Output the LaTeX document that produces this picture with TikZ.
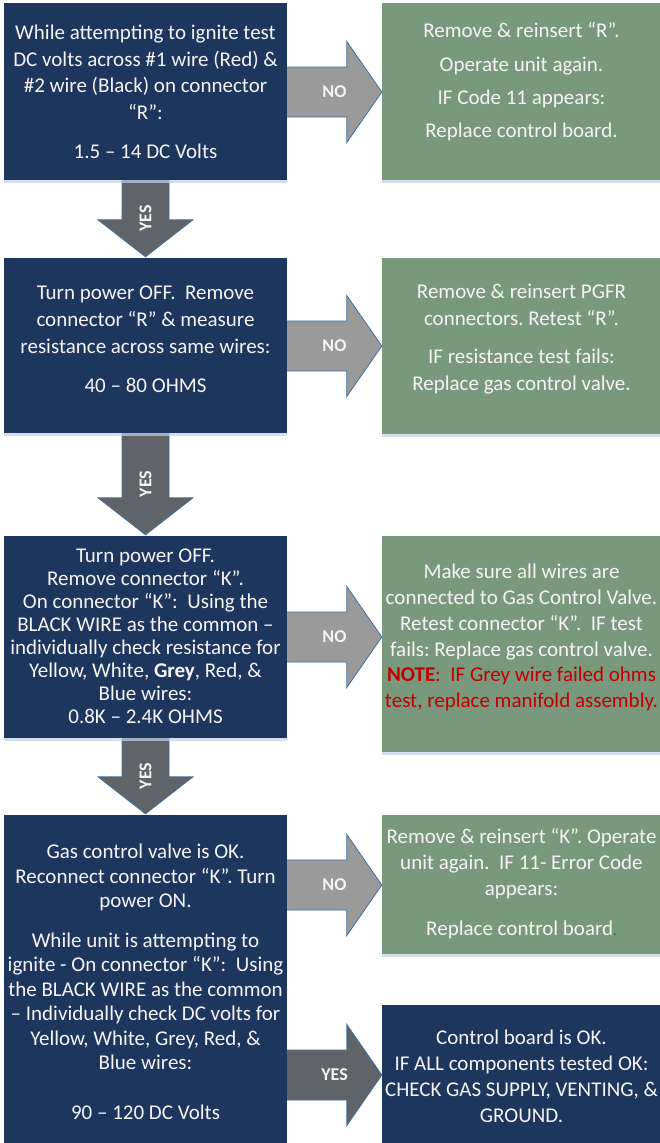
\documentclass[tikz,border=0pt]{standalone}
\usepackage{fontspec}
\setmainfont{Carlito}
\usetikzlibrary{calc,shadows}
\frenchspacing

\definecolor{navy}{RGB}{29,54,93}
\definecolor{sage}{RGB}{122,153,124}
\definecolor{txt}{RGB}{244,244,244}
\definecolor{nogray}{RGB}{154,154,154}
\definecolor{yesgray}{RGB}{96,99,104}
\definecolor{edgeblue}{RGB}{65,113,156}
\definecolor{notered}{RGB}{192,0,0}
\definecolor{shadowblue}{RGB}{196,208,228}
\definecolor{dotgray}{RGB}{60,60,60}

\pgfdeclarelayer{back}
\pgfdeclarelayer{paper}
\pgfsetlayers{paper,back,main}

\tikzset{
  box/.style={rectangle, inner sep=0pt, draw=none,
    drop shadow={shadow xshift=0pt, shadow yshift=-2.5pt, fill=shadowblue, opacity=0.7}},
  navybox/.style={box, fill=navy, minimum width=283pt},
  sagebox/.style={box, fill=sage, minimum width=279pt},
  boxtext/.style={inner sep=0pt, align=center, text=txt},
  arrowedge/.style={draw=edgeblue, line width=0.8pt, line join=miter},
  flowlabel/.style={inner sep=0pt, text=txt, font=\fontsize{18}{18}\selectfont\bfseries},
}

% block arrow pointing right, from the east side of #1 to the west side of #2
\newcommand\rblock[5]{%
  \coordinate (#2-tail) at (#1.east |- 0,#3);
  \coordinate (#2-tip) at (#2.west |- 0,#3);
  \begin{pgfonlayer}{back}
    \fill[#4] ($(#2-tail)+(-3,-25)$) -- ($(#2-tip)+(-35,-25)$) -- ($(#2-tip)+(-35,-50.5)$)
      -- (#2-tip) -- ($(#2-tip)+(-35,50.5)$) -- ($(#2-tip)+(-35,25)$) -- ($(#2-tail)+(-3,25)$) -- cycle;
    \draw[arrowedge] ($(#2-tail)+(0,-25)$) -- ($(#2-tip)+(-35,-25)$) -- ($(#2-tip)+(-35,-50.5)$)
      -- (#2-tip) -- ($(#2-tip)+(-35,50.5)$) -- ($(#2-tip)+(-35,25)$) -- ($(#2-tail)+(0,25)$);
  \end{pgfonlayer}
  \node[flowlabel] (#2-label) at ($(#2-tail)!0.5!(#2-tip)$) {#5};
}

% block arrow pointing down, from the south side of #1 to the north side of #2
\newcommand\dblock[2]{%
  \coordinate (#2-tail) at (#1.south);
  \coordinate (#2-tip) at ($(#2.north)+(0,-1)$);
  \begin{pgfonlayer}{back}
    \fill[yesgray] ($(#2-tail)+(-23.5,-3)$) -- ($(#2-tip)+(-23.5,-37)$) -- ($(#2-tip)+(-47.5,-37)$)
      -- (#2-tip) -- ($(#2-tip)+(47.5,-37)$) -- ($(#2-tip)+(23.5,-37)$) -- ($(#2-tail)+(23.5,-3)$) -- cycle;
    \draw[arrowedge] ($(#2-tail)+(-23.5,0)$) -- ($(#2-tip)+(-23.5,-37)$) -- ($(#2-tip)+(-47.5,-37)$)
      -- (#2-tip) -- ($(#2-tip)+(47.5,-37)$) -- ($(#2-tip)+(23.5,-37)$) -- ($(#2-tail)+(23.5,0)$);
  \end{pgfonlayer}
  \node[flowlabel, rotate=90] (#2-label) at ($(#2-tail)!0.5!(#2-tip)$) {YES};
}

\begin{document}
\begin{tikzpicture}[x=1pt, y=-1pt]
  \useasboundingbox (0,0) rectangle (660,1143);
  \begin{pgfonlayer}{paper}
    \fill[white] (0,0) rectangle (660,1143);
  \end{pgfonlayer}
  \clip (0,0) rectangle (660,1143);

  % boxes
  \node[navybox, minimum height=177pt] (b1) at (145.5,91.5) {};
  \node[sagebox, minimum height=177pt] (g1) at (521.5,91.5) {};
  \node[navybox, minimum height=175pt] (b2) at (145.5,345.5) {};
  \node[sagebox, minimum height=176pt] (g2) at (521.5,346) {};
  \node[navybox, minimum height=202pt] (b3) at (145.5,637) {};
  \node[sagebox, minimum height=216pt] (g3) at (521.5,644) {};
  \node[navybox, minimum height=335pt] (b4) at (145.5,982.5) {};
  \node[sagebox, minimum height=139pt] (g4) at (521.5,884.5) {};
  \node[navybox, minimum width=279pt, minimum height=140pt] (n5) at (521.5,1075) {};

  % box texts
  \node[boxtext, font=\fontsize{21}{26.5}\selectfont] (b1-text) at (145.5,92) {%
    While attempting to ignite test\\
    DC volts across \#1 wire (Red) \&\\
    \#2 wire (Black) on connector\\
    “R”:\\[12.5pt]
    1.5 – 14 DC Volts};
  \node[boxtext, font=\fontsize{21}{26}\selectfont] (g1-text) at (521.5,82) {%
    Remove \& reinsert “R”.\\[7.3pt]
    Operate unit again.\\[7.3pt]
    IF Code 11 appears:\\[7.3pt]
    Replace control board.};
  \node[boxtext, font=\fontsize{21}{27}\selectfont] (b2-text) at (145.5,339) {%
    Turn power OFF.\ \ Remove\\
    connector “R” \& measure\\
    resistance across same wires:\\[12pt]
    40 – 80 OHMS};
  \node[boxtext, font=\fontsize{21}{27}\selectfont] (g2-text) at (521.5,339) {%
    Remove \& reinsert PGFR\\
    connectors. Retest “R”.\\[11pt]
    IF resistance test fails:\\
    Replace gas control valve.};
  \node[boxtext, font=\fontsize{21}{23}\selectfont] (b3-text) at (145.5,636.5) {%
    Turn power OFF.\\
    Remove connector “K”.\\
    On connector “K”:\ \ Using the\\
    BLACK WIRE as the common –\\
    individually check resistance for\\
    Yellow, White, \textbf{Grey}, Red, \&\\
    Blue wires:\\
    0.8K – 2.4K OHMS};
  \node[boxtext, font=\fontsize{21}{25.8}\selectfont] (g3-text) at (521.5,637.5) {%
    Make sure all wires are\\
    connected to Gas Control Valve.\\
    Retest connector “K”.\ \ IF test\\
    fails: Replace gas control valve.\\
    {\color{notered}\textbf{NOTE}:\ \ IF Grey wire failed ohms}\\
    {\color{notered}test, replace manifold assembly.}};
  \node[boxtext, font=\fontsize{21}{24.5}\selectfont] (b4-text) at (145.5,982) {%
    Gas control valve is OK.\\
    Reconnect connector “K”. Turn\\
    power ON.\\[15pt]
    While unit is attempting to\\
    ignite - On connector “K”:\ \ Using\\
    the BLACK WIRE as the common\\
    – Individually check DC volts for\\
    Yellow, White, Grey, Red, \&\\
    Blue wires:\\[25pt]
    90 – 120 DC Volts};
  \node[boxtext, font=\fontsize{21}{26}\selectfont] (g4-text) at (521.5,884) {%
    Remove \& reinsert “K”. Operate\\
    unit again.\ \ IF 11- Error Code\\
    appears:\\[14pt]
    Replace control board{\color{dotgray}\fontsize{14}{14}\selectfont.}};
  \node[boxtext, font=\fontsize{21}{26}\selectfont] (n5-text) at (521.5,1076) {%
    Control board is OK.\\
    IF ALL components tested OK:\\
    CHECK GAS SUPPLY, VENTING, \&\\
    GROUND.};

  % connectors
  \rblock{b1}{g1}{92}{nogray}{NO}
  \rblock{b2}{g2}{346}{nogray}{NO}
  \rblock{b3}{g3}{637}{nogray}{NO}
  \rblock{b4}{g4}{885}{nogray}{NO}
  \rblock{b4}{n5}{1075}{yesgray}{YES}
  \dblock{b1}{b2}
  \dblock{b2}{b3}
  \dblock{b3}{b4}
\end{tikzpicture}
\end{document}
